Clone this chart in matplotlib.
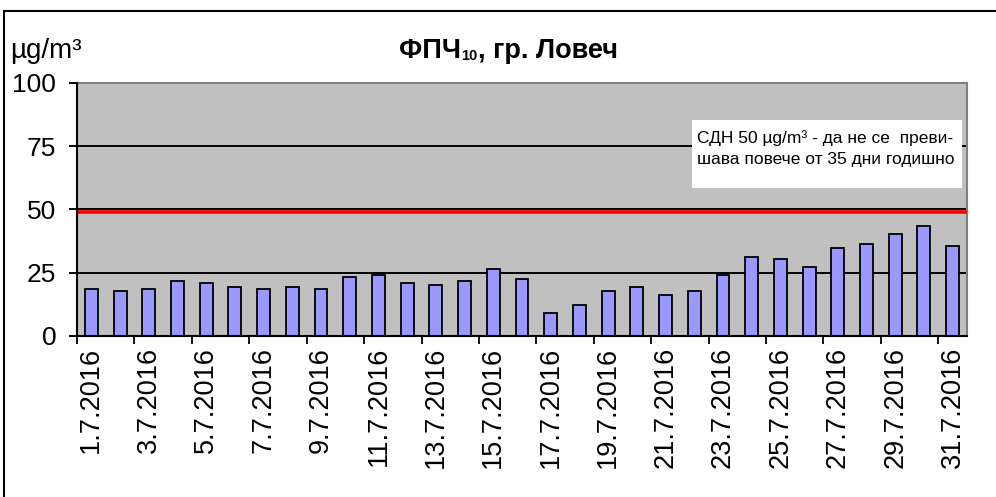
import matplotlib
matplotlib.use("Agg")
import matplotlib.pyplot as plt
from matplotlib.lines import Line2D
from matplotlib.patches import Rectangle

plt.rcParams["font.family"] = ["Liberation Sans", "DejaVu Sans"]

# Daily PM10 concentrations, Lovech, July 2016
days = [f"{d}.7.2016" for d in range(1, 32)]
pm10 = [18.7, 17.9, 18.7, 21.9, 21.1, 19.5, 18.7, 19.5, 18.7, 23.4,
        24.2, 21.1, 20.3, 21.9, 26.5, 22.6, 9.1, 12.3, 17.8, 19.4,
        16.3, 17.8, 24.2, 31.4, 30.6, 27.4, 34.6, 36.2, 40.2, 43.3, 35.4]
limit_line = 48.9
yticks = [0, 25, 50, 75, 100]
note = "СДН 50 µg/m³ - да не се  преви-\nшава повече от 35 дни годишно"

fig = plt.figure(figsize=(9.96, 4.97), dpi=100)
ax = fig.add_axes([0.0773, 0.324, 0.8936, 0.509])
ax.set_facecolor("#C0C0C0")

x = list(range(len(days)))
ax.bar(x, pm10, width=0.45, color="#9999FF", edgecolor="black", linewidth=1.3, zorder=3)

for v in [25, 50, 75]:
    ax.axhline(v, color="black", linewidth=1.4, zorder=1)
ax.axhline(limit_line, color="#FF0000", linewidth=2.6, zorder=4)

ax.set_xlim(-0.5, len(days) - 0.5)
ax.set_ylim(0, 100)
ax.set_yticks(yticks)
ax.set_yticklabels([str(v) for v in yticks], fontsize=19)
ax.tick_params(axis="y", direction="out", length=6, width=1.4, pad=9)

# ticks between categories every 2 days, labels on odd days
ax.set_xticks([i - 0.5 for i in range(0, len(days), 2)])
ax.set_xticklabels([])
ax.set_xticks(x[::2], minor=True)
ax.set_xticklabels(days[::2], minor=True, rotation=90, fontsize=19.5)
ax.tick_params(axis="x", which="major", direction="out", length=6, width=1.3)
ax.tick_params(axis="x", which="minor", length=0, pad=8)

for s in ["top", "right"]:
    ax.spines[s].set_color("#808080")
    ax.spines[s].set_linewidth(1.5)
for s in ["left", "bottom"]:
    ax.spines[s].set_color("black")
    ax.spines[s].set_linewidth(1.5)
    ax.spines[s].set_zorder(5)

# note box
ax.add_patch(Rectangle((0.691, 0.585), 0.303, 0.269, transform=ax.transAxes,
                       facecolor="white", edgecolor="none", zorder=6))
ax.text(0.697, 0.742, note, transform=ax.transAxes, fontsize=12.5,
        va="center", ha="left", linespacing=1.5, zorder=7)

# titles
fig.text(0.010, 0.872, "µg/m³", fontsize=20, va="bottom", ha="left")
t1 = fig.text(0.401, 0.872, "ФПЧ", fontsize=19.5, fontweight="bold", va="bottom", ha="left")
t2 = ax.annotate("10", xy=(1, 0.04), xycoords=t1, fontsize=10.5, fontweight="bold",
                 va="bottom", ha="left")
ax.annotate(", гр. Ловеч", xy=(1, -0.07), xycoords=t2, fontsize=19.5, fontweight="bold",
            va="bottom", ha="left")

# outer chart frame
fig.add_artist(Line2D([0.004, 1.0], [0.978, 0.978], transform=fig.transFigure,
                      color="black", linewidth=1.5))
fig.add_artist(Line2D([0.004, 0.004], [0.0, 0.978], transform=fig.transFigure,
                      color="black", linewidth=1.5))

fig.savefig("out.png", dpi=100)
